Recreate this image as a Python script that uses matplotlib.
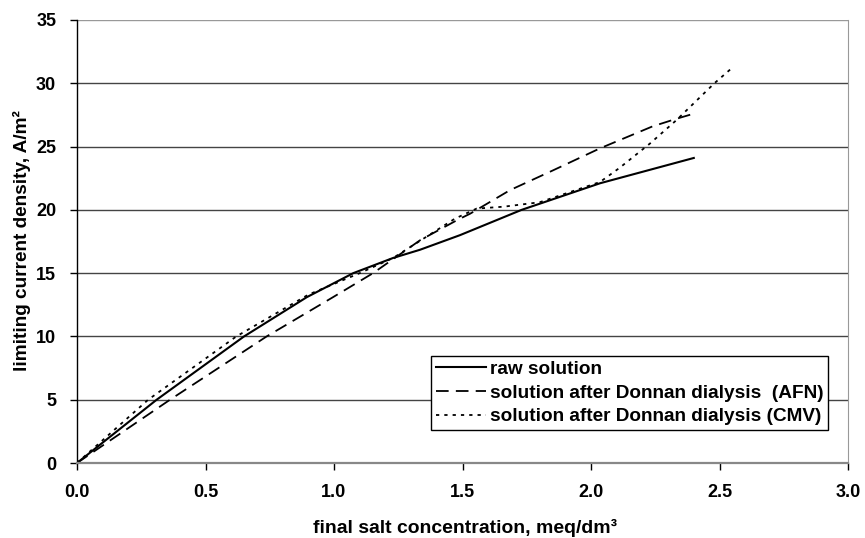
import matplotlib
matplotlib.use("Agg")
import matplotlib.pyplot as plt

plt.rcParams['font.family'] = ['Liberation Sans', 'DejaVu Sans']

# Data
raw_x = [0.0, 0.31, 0.65, 0.894, 1.075, 1.23, 1.335, 1.49, 1.73, 2.035, 2.40]
raw_y = [0.0, 5.0, 10.0, 13.1, 15.0, 16.2, 16.85, 18.0, 20.0, 22.1, 24.1]

afn_x = [0.0, 0.362, 0.738, 0.996, 1.152, 1.335, 1.48, 1.53, 1.685, 1.85, 2.035, 2.24, 2.333, 2.40]
afn_y = [0.0, 5.0, 10.0, 13.1, 15.0, 17.6, 19.2, 19.7, 21.56, 23.1, 24.86, 26.6, 27.2, 27.6]

cmv_x = [0.0, 0.277, 0.62, 0.90, 1.10, 1.23, 1.47, 1.555, 1.66, 1.80, 2.035, 2.11, 2.23, 2.333, 2.48, 2.548]
cmv_y = [0.0, 5.0, 10.0, 13.3, 15.0, 16.2, 19.3, 20.1, 20.25, 20.6, 22.2, 23.3, 25.25, 27.1, 30.0, 31.2]

labels = ["raw solution",
          "solution after Donnan dialysis  (AFN)",
          "solution after Donnan dialysis (CMV)"]

x_ticks = [0.0, 0.5, 1.0, 1.5, 2.0, 2.5, 3.0]
y_ticks = [0, 5, 10, 15, 20, 25, 30, 35]

W, H = 865, 538
fig = plt.figure(figsize=(W/100, H/100), dpi=100)
ax = fig.add_axes([77/W, 1-463/H, (848-77)/W, (463-20)/H])

ax.plot(raw_x, raw_y, color='black', lw=1.5, ls='-', label=labels[0])
ax.plot(afn_x, afn_y, color='black', lw=1.3, ls=(0, (7, 4)), label=labels[1])
ax.plot(cmv_x, cmv_y, color='black', lw=1.3, ls=(0, (1.8, 2.8)), label=labels[2])

ax.set_xlim(0, 3.0)
ax.set_ylim(0, 35)
ax.set_xticks(x_ticks)
ax.set_xticklabels([f"{v:.1f}" for v in x_ticks])
ax.set_yticks(y_ticks)
ax.set_yticklabels([str(v) for v in y_ticks])

for v in y_ticks[1:]:
    ax.axhline(v, color='#444444' if v < 35 else '#999999', lw=1.0, zorder=0)

ax.spines['top'].set_visible(False)
ax.spines['right'].set_color('#999999')
ax.spines['bottom'].set_color('#888888')
ax.spines['bottom'].set_linewidth(1.6)
ax.spines['left'].set_color('black')
ax.spines['left'].set_linewidth(1.0)

ax.tick_params(axis='x', direction='out', length=5, width=1, color='black', pad=10)
ax.tick_params(axis='y', direction='out', length=5, width=1, color='black', pad=10)
for lab in ax.get_xticklabels() + ax.get_yticklabels():
    lab.set_fontsize(13)
    lab.set_fontweight('bold')

xl = ax.set_xlabel("final salt concentration, meq/dm³", fontsize=12.5, fontweight='bold')
yl = ax.set_ylabel("limiting current density, A/m²", fontsize=12.5, fontweight='bold')
ax.xaxis.set_label_coords((465-77)/771, (463-533)/443)
xl.set_va('baseline')
ax.yaxis.set_label_coords((22-77)/771, (463-241)/443)
yl.set_va('center')

# fit label lengths to reference
fig.canvas.draw()
r = fig.canvas.get_renderer()
bx = xl.get_window_extent(r)
xl.set_fontsize(12.5 * 305 / bx.width)
by = yl.get_window_extent(r)
yl.set_fontsize(12.5 * 262 / by.height)

leg = ax.legend(loc='lower right', bbox_to_anchor=(828/W, 1-430/H), bbox_transform=fig.transFigure,
                frameon=True, fancybox=False, edgecolor='black', framealpha=1,
                prop={'weight': 'bold', 'size': 13}, handlelength=2.8, handletextpad=0.2,
                borderpad=0.25, labelspacing=0.38, borderaxespad=0)
leg.get_frame().set_linewidth(1.0)
fig.canvas.draw()
tw = leg.get_texts()[2].get_window_extent(r).width
fs = 13 * 330 / tw
for t in leg.get_texts():
    t.set_fontsize(fs)

fig.savefig("out.png", dpi=100)
